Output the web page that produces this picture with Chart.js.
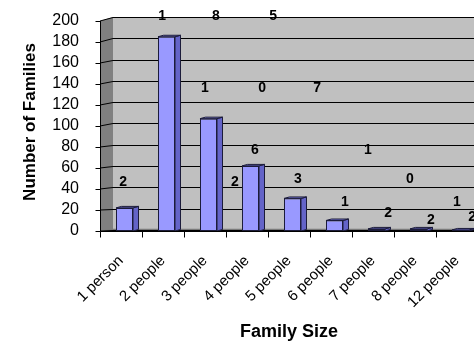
<!DOCTYPE html>
<html>
<head>
<meta charset="utf-8">
<script src="https://cdn.jsdelivr.net/npm/chart.js@4/dist/chart.umd.min.js"></script>
<style>
  html, body { margin: 0; padding: 0; background: #ffffff; overflow: hidden; width: 474px; height: 342px; }
  canvas { display: block; }
</style>
</head>
<body>
<canvas id="chart" width="490" height="342"></canvas>
<script>
// Household sizes and how many families fall into each
const categories = ['1 person', '2 people', '3 people', '4 people', '5 people', '6 people', '7 people', '8 people', '12 people'];
const families = [22, 185, 107, 62, 31, 10, 2, 2, 1];
const yTicks = [0, 20, 40, 60, 80, 100, 120, 140, 160, 180, 200];

// Where each digit of a value label sits: [category position, level on the value axis]
const digitSpots = [
  [[0.05, 47], [8.36, 13]],
  [[0.98, 204.5], [2.26, 204.5], [3.62, 204.5]],
  [[2.0, 136.4], [3.36, 136.4], [4.67, 136.4]],
  [[3.19, 77], [2.71, 47]],
  [[4.21, 49], [5.33, 27.3]],
  [[5.88, 77], [6.88, 49]],
  [[6.36, 17]],
  [[7.38, 10.2]],
  [[8.0, 27.3]]
];

const FONT = "'Liberation Sans', Arial, sans-serif";
const WALL_DEPTH = 13;      // horizontal depth of the side wall
const BAR_SHIFT = 3.5;      // bars sit a little behind the front plane
const BAR_DX = 5.5, BAR_DY = -1.5;  // bar side/top face depth

function backY(chart, v) {
  const a = chart.chartArea, y = chart.scales.y;
  return a.bottom - 1.2 - (a.bottom - y.getPixelForValue(v)) * 1.013;
}
const crisp = v => Math.round(v) + 0.5;

const box3d = {
  id: 'box3d',
  beforeDatasetsDraw(chart) {
    const { ctx, chartArea: a, scales: { y } } = chart;
    const W = chart.width;
    const bx = a.left + WALL_DEPTH;
    const top = yTicks[yTicks.length - 1];
    ctx.save();
    // back wall
    ctx.fillStyle = '#c0c0c0';
    ctx.beginPath();
    ctx.moveTo(bx, backY(chart, top));
    ctx.lineTo(W, backY(chart, top));
    ctx.lineTo(W, backY(chart, 0));
    ctx.lineTo(bx, backY(chart, 0));
    ctx.closePath();
    ctx.fill();
    // side wall
    ctx.fillStyle = '#808080';
    ctx.beginPath();
    ctx.moveTo(a.left, y.getPixelForValue(top));
    ctx.lineTo(bx, backY(chart, top));
    ctx.lineTo(bx, backY(chart, 0));
    ctx.lineTo(a.left, y.getPixelForValue(0));
    ctx.closePath();
    ctx.fill();
    // floor
    ctx.fillStyle = '#7a7a7a';
    ctx.beginPath();
    ctx.moveTo(a.left, y.getPixelForValue(0));
    ctx.lineTo(bx, backY(chart, 0) - 1);
    ctx.lineTo(W, backY(chart, 0) - 1);
    ctx.lineTo(W, y.getPixelForValue(0));
    ctx.closePath();
    ctx.fill();
    // gridlines across side and back walls
    ctx.strokeStyle = '#000000';
    ctx.lineWidth = 1;
    yTicks.forEach(v => {
      const fy = y.getPixelForValue(v);
      const by = crisp(backY(chart, v));
      ctx.beginPath();
      ctx.moveTo(a.left, fy);
      ctx.lineTo(bx, by);
      ctx.lineTo(W, by);
      ctx.stroke();
    });
    ctx.restore();
    // shift the bar fronts back into the box
    ctx.save();
    ctx.translate(BAR_SHIFT, 0);
  },
  afterDatasetsDraw(chart) {
    const { ctx, chartArea: a, scales: { x, y } } = chart;
    ctx.restore();
    const W = chart.width;
    const meta = chart.getDatasetMeta(0);
    ctx.save();
    ctx.lineWidth = 1;
    ctx.strokeStyle = '#1c1c3a';
    meta.data.forEach(bar => {
      const { x: cx, y: ty, base, width } = bar.getProps(['x', 'y', 'base', 'width'], true);
      const xl = cx - width / 2 + BAR_SHIFT, xr = cx + width / 2 + BAR_SHIFT;
      // side face
      ctx.fillStyle = '#6464c8';
      ctx.beginPath();
      ctx.moveTo(xr, ty);
      ctx.lineTo(xr + BAR_DX, ty + BAR_DY);
      ctx.lineTo(xr + BAR_DX, base + BAR_DY);
      ctx.lineTo(xr, base);
      ctx.closePath();
      ctx.fill();
      ctx.stroke();
      // top face
      ctx.fillStyle = '#7070d0';
      ctx.beginPath();
      ctx.moveTo(xl, ty);
      ctx.lineTo(xl + BAR_DX, ty + BAR_DY);
      ctx.lineTo(xr + BAR_DX, ty + BAR_DY);
      ctx.lineTo(xr, ty);
      ctx.closePath();
      ctx.fill();
      ctx.stroke();
    });
    // front axes with tick marks
    ctx.strokeStyle = '#000000';
    const x0 = crisp(a.left);
    const yTop = y.getPixelForValue(yTicks[yTicks.length - 1]);
    const yBase = crisp(y.getPixelForValue(0));
    ctx.beginPath();
    ctx.moveTo(x0, yTop);
    ctx.lineTo(x0, yBase);
    ctx.lineTo(W, yBase);
    yTicks.forEach(v => {
      const ty = crisp(y.getPixelForValue(v));
      ctx.moveTo(x0 - 5, ty);
      ctx.lineTo(x0, ty);
    });
    const step = x.getPixelForValue(1) - x.getPixelForValue(0);
    for (let i = 0; i <= categories.length; i++) {
      const tx = crisp(x.getPixelForValue(i) - step / 2);
      ctx.moveTo(tx, yBase);
      ctx.lineTo(tx, yBase + 6);
    }
    ctx.stroke();
    ctx.restore();
  },
  afterDraw(chart) {
    const { ctx, chartArea: a, scales: { x, y } } = chart;
    ctx.save();
    ctx.fillStyle = '#000000';
    // value labels, one digit at a time
    ctx.font = 'bold 14px ' + FONT;
    ctx.textAlign = 'center';
    ctx.textBaseline = 'middle';
    families.forEach((v, i) => {
      String(v).split('').forEach((d, j) => {
        const spot = digitSpots[i][j];
        ctx.fillText(d, x.getPixelForValue(spot[0]), y.getPixelForValue(spot[1]));
      });
    });
    // axis titles
    ctx.font = 'bold 18px ' + FONT;
    ctx.textBaseline = 'alphabetic';
    ctx.fillText('Family Size', (a.left + a.right) / 2, 337);
    ctx.save();
    ctx.translate(35, 122);
    ctx.rotate(-Math.PI / 2);
    ctx.font = 'bold 17px ' + FONT;
    ctx.fillText('Number of Families', 0, 0);
    ctx.restore();
    ctx.restore();
  }
};

new Chart(document.getElementById('chart'), {
  type: 'bar',
  data: {
    labels: categories,
    datasets: [{
      data: families,
      backgroundColor: '#9999ff',
      borderColor: '#1c1c3a',
      borderWidth: 1,
      borderSkipped: false,
      barPercentage: 0.405,
      categoryPercentage: 1
    }]
  },
  options: {
    responsive: false,
    animation: false,
    devicePixelRatio: 1,
    layout: { padding: { left: 0, right: 12, top: 21, bottom: 0 } },
    plugins: { legend: { display: false }, tooltip: { enabled: false } },
    scales: {
      x: {
        grid: { display: false, drawTicks: false },
        border: { display: false },
        ticks: {
          color: '#000000',
          font: { family: FONT, size: 15 },
          minRotation: 45,
          maxRotation: 45,
          autoSkip: false,
          padding: 21
        },
        afterFit: s => { s.height = 111; s.paddingLeft = 0; s.paddingRight = 0; }
      },
      y: {
        min: 0,
        max: 200,
        grid: { display: false, drawTicks: false },
        border: { display: false },
        afterBuildTicks: s => { s.ticks = yTicks.map(v => ({ value: v })); },
        ticks: {
          color: '#000000',
          font: { family: FONT, size: 16 },
          padding: 21,
          autoSkip: false
        },
        afterFit: s => { s.width = 100; s.paddingTop = 0; s.paddingBottom = 0; }
      }
    }
  },
  plugins: [box3d]
});
</script>
</body>
</html>
